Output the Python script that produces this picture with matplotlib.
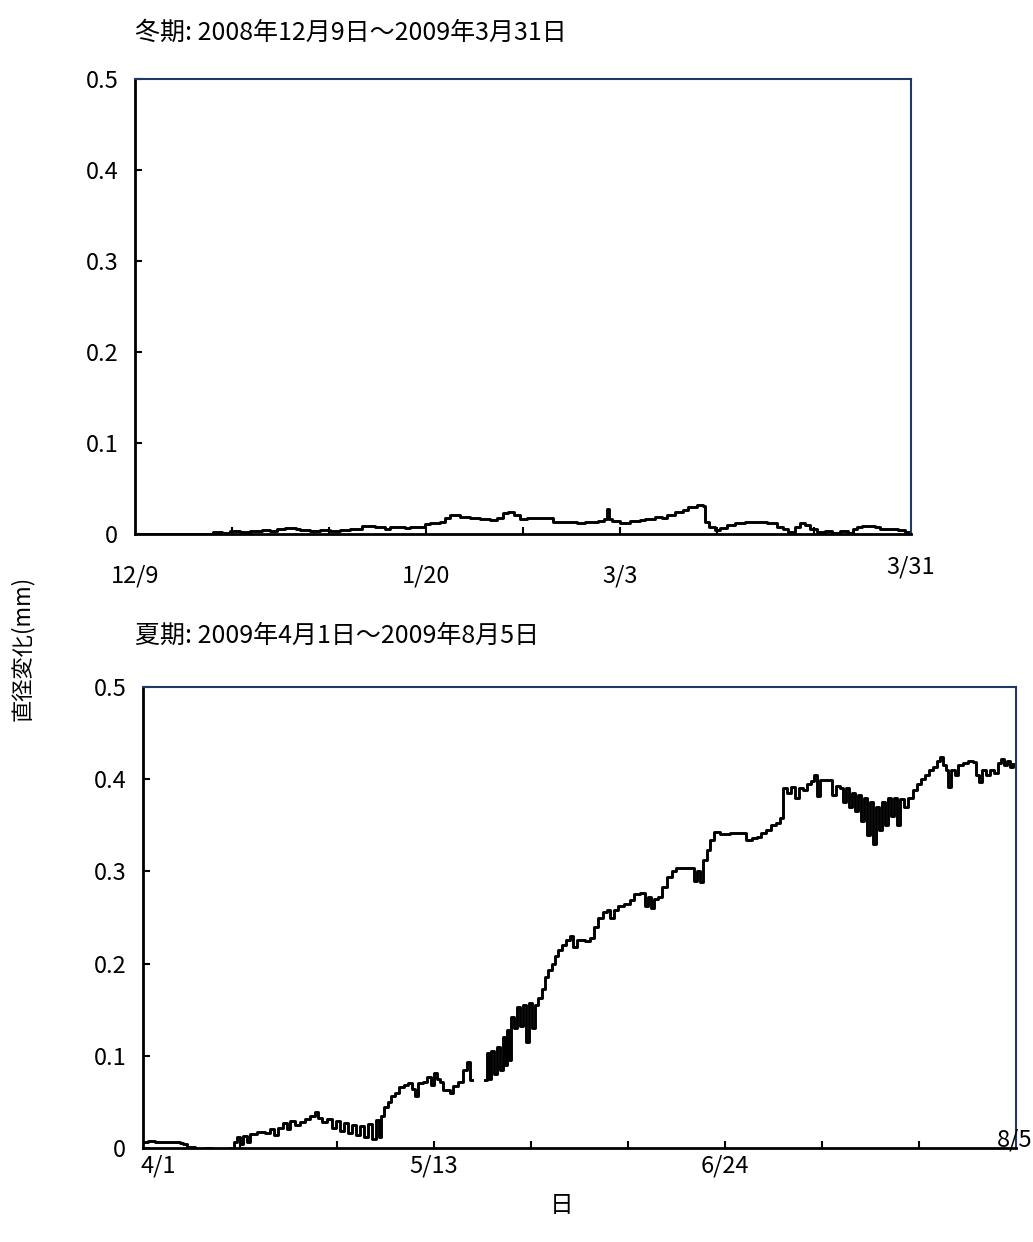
import numpy as np
import matplotlib
matplotlib.use('Agg')
import matplotlib.pyplot as plt

plt.rcParams['font.family'] = ['Noto Sans CJK JP', 'DejaVu Sans']

# Winter: days since 12/9, diameter change (mm)
winter_day = [0.0, 11.1, 11.3, 12.6, 13.7, 15.2, 16.6, 18.3, 19.5, 20.5, 21.6, 23.2, 23.8,
              25.3, 26.7, 28.1, 29.6, 31.0, 32.0, 32.8, 34.6, 36.1, 36.8, 39.0, 39.7, 41.8,
              42.6, 44.0, 44.7, 45.5, 46.9, 48.3, 49.8, 51.2, 52.2, 53.1, 53.8, 54.7, 55.6,
              56.6, 59.9, 60.3, 62.0, 63.8, 64.9, 66.8, 67.7, 68.1, 68.4, 68.8, 70.0, 71.4,
              72.9, 73.6, 75.0, 76.0, 76.8, 77.9, 79.1, 79.8, 81.1, 82.0, 82.3, 82.8, 83.7,
              84.4, 85.4, 86.6, 88.0, 91.2, 92.6, 93.5, 94.2, 95.2, 96.0, 96.7, 97.4, 98.4,
              99.6, 100.6, 101.7, 102.9, 103.6, 104.2, 105.0, 106.8, 107.5, 109.2, 110.1,
              111.1, 112.0]
winter_val = [0.0, 0.0, 0.002, 0.001, 0.003, 0.002, 0.003, 0.004, 0.003, 0.005, 0.007, 0.006,
              0.004, 0.003, 0.004, 0.003, 0.004, 0.005, 0.006, 0.009, 0.008, 0.006, 0.008,
              0.007, 0.008, 0.011, 0.012, 0.013, 0.018, 0.021, 0.019, 0.018, 0.017, 0.015,
              0.018, 0.023, 0.024, 0.021, 0.017, 0.018, 0.018, 0.013, 0.013, 0.012, 0.013,
              0.014, 0.016, 0.028, 0.017, 0.014, 0.012, 0.014, 0.015, 0.017, 0.019, 0.018,
              0.021, 0.024, 0.026, 0.030, 0.032, 0.031, 0.013, 0.008, 0.004, 0.007, 0.010,
              0.012, 0.013, 0.012, 0.008, 0.005, 0.002, 0.008, 0.012, 0.010, 0.005, 0.002,
              0.003, 0.001, 0.003, 0.001, 0.006, 0.008, 0.009, 0.008, 0.006, 0.005, 0.004,
              0.002, 0.002]

# Summer: days since 4/1, diameter change (mm); nan = missing data
summer_day = [0.0, 0.7, 1.7, 3.9, 5.3, 5.8, 6.3, 7.5, 8.9, 10.0, 11.1, 12.1, 12.6, 13.1, 13.6,
              14.0, 14.4, 15.0, 15.4, 16.5, 17.6, 18.3, 18.9, 19.5, 20.2, 20.8, 21.2, 21.9,
              22.7, 23.4, 24.1, 24.8, 25.3, 25.8, 26.6, 27.3, 27.8, 28.4, 29.0, 29.6, 30.2,
              30.7, 31.3, 31.9, 32.5, 33.0, 33.6, 34.1, 34.3, 34.8, 35.4, 35.8, 36.4, 36.9,
              37.7, 38.2, 38.8, 39.2, 39.7, 40.4, 41.0, 41.6, 42.0, 42.4, 42.9, 43.3, 44.3,
              44.7, 45.5, 46.2, 46.8, 47.2, 47.5, 49.3, 49.6, 49.9, 50.2, 50.6, 51.1, 51.5,
              51.9, 52.2, 52.5, 52.8, 53.1, 53.5, 54.0, 54.4, 54.8, 55.3, 55.7, 56.1, 56.6,
              57.0, 57.6, 58.0, 58.4, 59.0, 59.5, 59.9, 60.5, 61.0, 61.6, 62.1, 62.6, 63.8,
              64.5, 65.1, 65.7, 66.4, 67.0, 67.4, 68.0, 68.5, 69.4, 70.3, 70.9, 71.7, 72.4,
              72.9, 73.3, 73.7, 74.3, 74.9, 75.6, 76.3, 76.9, 78.9, 79.5, 79.9, 80.4, 80.8,
              81.4, 81.8, 82.4, 83.3, 84.7, 86.4, 87.0, 87.9, 88.6, 89.2, 89.9, 90.6, 91.3,
              91.9, 92.4, 92.9, 93.5, 94.1, 94.7, 95.2, 95.8, 96.4, 96.9, 97.3, 97.7, 99.1,
              99.4, 100.0, 100.6, 101.0, 101.4, 101.9, 102.3, 102.7, 103.2, 103.6, 104.0,
              104.5, 104.9, 105.3, 105.8, 106.2, 106.6, 107.1, 107.5, 107.9, 108.4, 108.8,
              109.2, 109.8, 110.4, 111.1, 111.7, 112.3, 112.8, 113.4, 114.0, 114.6, 115.0,
              115.4, 115.9, 116.2, 116.6, 117.2, 117.6, 118.4, 119.1, 119.8, 120.2, 120.6,
              121.1, 121.6, 122.2, 122.8, 123.4, 123.8, 124.2, 124.7, 125.1, 125.6]
summer_val = [0.007, 0.008, 0.006, 0.007, 0.005, 0.004, 0.001, -0.002, 0.0, -0.002, -0.001,
              -0.003, 0.0, 0.006, 0.012, 0.004, 0.013, 0.006, 0.015, 0.017, 0.016, 0.021, 0.014,
              0.022, 0.027, 0.021, 0.029, 0.025, 0.028, 0.031, 0.035, 0.039, 0.033, 0.028,
              0.031, 0.022, 0.029, 0.018, 0.027, 0.016, 0.025, 0.014, 0.024, 0.012, 0.026,
              0.010, 0.030, 0.012, 0.035, 0.045, 0.050, 0.056, 0.060, 0.066, 0.068, 0.070,
              0.064, 0.056, 0.070, 0.072, 0.077, 0.068, 0.081, 0.075, 0.072, 0.063, 0.060,
              0.067, 0.072, 0.085, 0.093, 0.074, np.nan, 0.074, 0.103, 0.075, 0.105, 0.080,
              0.110, 0.085, 0.120, 0.090, 0.128, 0.095, 0.142, 0.130, 0.153, 0.132, 0.155,
              0.115, 0.157, 0.130, 0.155, 0.163, 0.172, 0.186, 0.193, 0.200, 0.208, 0.215,
              0.220, 0.226, 0.230, 0.218, 0.226, 0.225, 0.228, 0.240, 0.250, 0.256, 0.258,
              0.250, 0.258, 0.262, 0.265, 0.269, 0.276, 0.277, 0.262, 0.272, 0.260, 0.270,
              0.272, 0.283, 0.294, 0.300, 0.304, 0.304, 0.290, 0.300, 0.288, 0.312, 0.323,
              0.334, 0.343, 0.341, 0.342, 0.342, 0.334, 0.336, 0.337, 0.342, 0.345, 0.350,
              0.353, 0.358, 0.390, 0.385, 0.392, 0.380, 0.390, 0.388, 0.395, 0.398, 0.405,
              0.382, 0.399, 0.399, 0.383, 0.393, 0.390, 0.375, 0.390, 0.370, 0.385, 0.365,
              0.383, 0.355, 0.380, 0.340, 0.375, 0.330, 0.370, 0.345, 0.375, 0.350, 0.380,
              0.360, 0.380, 0.350, 0.378, 0.370, 0.380, 0.388, 0.395, 0.400, 0.405, 0.410,
              0.413, 0.420, 0.424, 0.415, 0.410, 0.392, 0.410, 0.405, 0.415, 0.418, 0.420,
              0.419, 0.405, 0.397, 0.410, 0.405, 0.410, 0.407, 0.418, 0.422, 0.415, 0.420,
              0.413, 0.416]

winter_labels = ['12/9', '1/20', '3/3', '3/31']
winter_label_day = [0, 42, 70, 112]
summer_labels = ['4/1', '5/13', '6/24', '8/5']
summer_label_day = [2.2, 42, 84, 126]

navy = '#203864'
fs = 17

fig = plt.figure(figsize=(10.33, 12.42), dpi=100)
ax1 = fig.add_axes([135/1033, 1 - 534/1242, 776/1033, 455/1242])
ax2 = fig.add_axes([143/1033, 1 - 1148/1242, 873/1033, 461/1242])


def style(ax, xmax):
    ax.set_xlim(0, xmax)
    ax.set_ylim(0, 0.5)
    ax.set_yticks([0, 0.1, 0.2, 0.3, 0.4, 0.5])
    ax.set_yticklabels(['0', '0.1', '0.2', '0.3', '0.4', '0.5'])
    ax.set_xticks(np.arange(14, xmax, 14))
    ax.set_xticklabels([])
    ax.tick_params(axis='y', direction='in', length=5, width=1.5, pad=12, labelsize=fs)
    ax.tick_params(axis='x', direction='in', length=5, width=1.5)
    for s in ['left', 'bottom']:
        ax.spines[s].set_color('black')
        ax.spines[s].set_linewidth(2)
    for s in ['top', 'right']:
        ax.spines[s].set_color(navy)
        ax.spines[s].set_linewidth(1.5)


style(ax1, 112)
style(ax2, 126)

ax1.plot(winter_day, winter_val, color='black', lw=2.1, drawstyle='steps-post')
ax2.plot(summer_day, summer_val, color='black', lw=2.1, drawstyle='steps-post')

# date labels under the axes
for lab, d in zip(winter_labels, winter_label_day):
    dy = -24 if lab == '3/31' else -30
    ax1.annotate(lab, xy=(d, 0), xycoords=('data', 'axes fraction'), xytext=(0, dy),
                 textcoords='offset points', ha='center', va='center', fontsize=fs,
                 annotation_clip=False)
for lab, d in zip(summer_labels, summer_label_day):
    dx, dy = (0, -13)
    if lab == '8/5':
        dx, dy = (-1, 6)
    ax2.annotate(lab, xy=(d, 0), xycoords=('data', 'axes fraction'), xytext=(dx, dy),
                 textcoords='offset points', ha='center', va='center', fontsize=fs,
                 annotation_clip=False)

fig.text(135/1033, 1 - 33/1242, '冬期: 2008年12月9日～2009年3月31日', fontsize=18,
         ha='left', va='center')
fig.text(135/1033, 1 - 636/1242, '夏期: 2009年4月1日～2009年8月5日', fontsize=18,
         ha='left', va='center')
fig.text(22/1033, 1 - 648/1242, '直径変化(mm)', fontsize=16, rotation=90,
         ha='center', va='center')
fig.text(562/1033, 1 - 1205/1242, '日', fontsize=fs, ha='center', va='center')

fig.savefig('out.png', dpi=100)
